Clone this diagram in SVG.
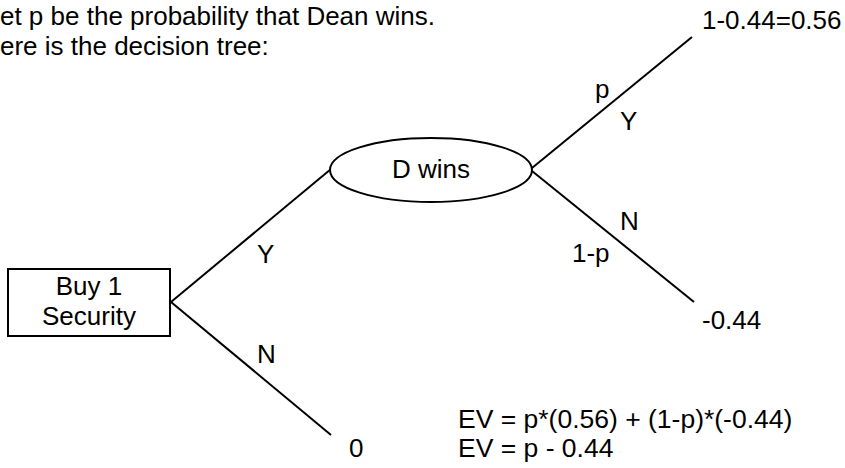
<svg xmlns="http://www.w3.org/2000/svg" width="845" height="468" viewBox="0 0 845 468">
<style>
text{font-family:"Liberation Sans",Arial,sans-serif;font-size:26px;fill:#000}
.c{text-anchor:middle}
.ev{font-size:26.5px}
.s{fill:#fff;stroke:#000;stroke-width:2}
.e line{stroke:#000;stroke-width:2}
</style>
<rect width="845" height="468" fill="#fff"/>
<text x="-14.5" y="25">Let p be the probability that Dean wins.</text>
<text x="-18.8" y="55">Here is the decision tree:</text>
<g class="e" id="connectors">
<line x1="171" y1="302" x2="331" y2="169"/>
<line x1="171" y1="302" x2="331" y2="435"/>
<line x1="532" y1="168" x2="692" y2="37"/>
<line x1="532" y1="171" x2="694" y2="302"/>
</g>
<g id="buy">
<rect class="s" x="8" y="269" width="162" height="67"/>
<text class="c" x="89" y="295">Buy 1</text>
<text class="c" x="89" y="325">Security</text>
</g>
<g id="dwins">
<ellipse class="s" cx="431" cy="170" rx="101" ry="32"/>
<text class="c" x="431" y="178">D wins</text>
</g>
<g id="labels">
<text x="257" y="263">Y</text>
<text x="257" y="363">N</text>
<text x="595" y="98">p</text>
<text x="620" y="130">Y</text>
<text x="620" y="230">N</text>
<text x="572" y="262">1-p</text>
<text x="702" y="29">1-0.44=0.56</text>
<text x="702" y="329">-0.44</text>
<text x="349" y="457">0</text>
<text class="ev" x="458" y="428">EV = p*(0.56) + (1-p)*(-0.44)</text>
<text class="ev" x="458" y="457">EV = p - 0.44</text>
</g>
</svg>
